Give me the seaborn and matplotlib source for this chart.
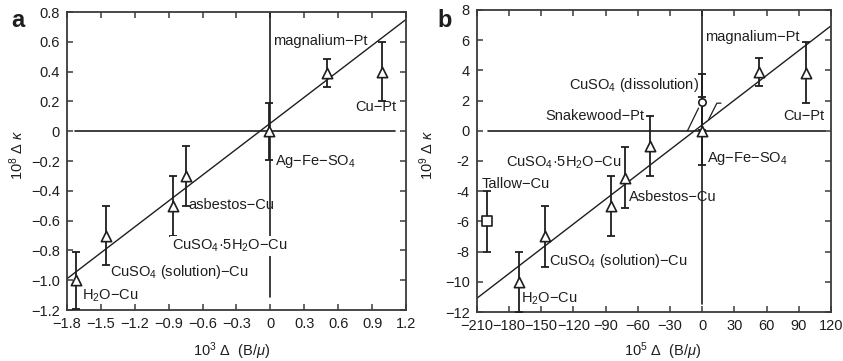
import matplotlib
matplotlib.use("Agg")
import matplotlib.pyplot as plt
import seaborn as sns
import numpy as np

sns.set_theme(style="ticks")
plt.rcParams['font.family'] = ['Liberation Sans', 'DejaVu Sans']
plt.rcParams['mathtext.fontset'] = 'custom'
plt.rcParams['mathtext.rm'] = 'Liberation Sans'
plt.rcParams['mathtext.it'] = 'Liberation Sans:italic'
plt.rcParams['axes.unicode_minus'] = True

# ---------------- data: panel a ----------------
A_X = [-1.72, -1.455, -0.86, -0.75, -0.015, 0.50, 0.99]
A_Y = [-1.0, -0.7, -0.5, -0.3, 0.0, 0.39, 0.40]
A_ERR = [0.19, 0.2, 0.2, 0.2, 0.19, 0.095, 0.2]
A_FIT_X = [-1.8, 1.2]
A_FIT_Y = [-0.99, 0.75]
A_HLINE_X = [-1.726, 1.10]
A_VLINE_Y = [0.8, -1.11]
A_XTICKS = [-1.8, -1.5, -1.2, -0.9, -0.6, -0.3, 0, 0.3, 0.6, 0.9, 1.2]
A_XTICKLABELS = ["−1.8", "−1.5", "−1.2", "−0.9", "−0.6", "−0.3", "0", "0.3", "0.6", "0.9", "1.2"]
A_YTICKS = [0.8, 0.6, 0.4, 0.2, 0, -0.2, -0.4, -0.6, -0.8, -1.0, -1.2]
A_YTICKLABELS = ["0.8", "0.6", "0.4", "0.2", "0", "−0.2", "−0.4", "−0.6", "−0.8", "−1.0", "−1.2"]
# annotations: (text, x, y(baseline), ha)
A_TEXTS = [
    ("magnalium−Pt", 0.02, 0.58, "left"),
    ("Cu−Pt", 0.75, 0.133, "left"),
    ("Ag−Fe−SO$_4$", 0.04, -0.228, "left"),
    ("asbestos−Cu", -0.726, -0.52, "left"),
    ("CuSO$_4$·5H$_2$O−Cu", -0.875, -0.795, "left"),
    ("CuSO$_4$ (solution)−Cu", -1.42, -0.975, "left"),
    ("H$_2$O−Cu", -1.668, -1.128, "left"),
]

# ---------------- data: panel b ----------------
B_X = [-171, -146, -84.5, -72, -48.8, 0, 53, 97]
B_Y = [-10, -7, -5, -3.1, -1, 0, 3.9, 3.85]
B_ERR = [2, 2, 2, 2, 2, 2.25, 0.95, 2]
B_SQ_X = [-200]
B_SQ_Y = [-6]
B_SQ_ERR = [2]
B_CI_X = [0]
B_CI_Y = [1.9]
B_CI_ERR = [1.85]
B_FIT_X = [-210, 120]
B_FIT_Y = [-11.1, 6.95]
B_HLINE_X = [-199.4, 114]
B_VLINE_Y = [8, -11.5]
B_LEADER1_X = [-3.4, -13.7]
B_LEADER1_Y = [1.5, 0.0]
B_LEADER2_X = [5.9, 13.7, 17.5]
B_LEADER2_Y = [0.73, 1.83, 1.83]
B_XTICKS = [-210, -180, -150, -120, -90, -60, -30, 0, 30, 60, 90, 120]
B_XTICKLABELS = ["−210", "−180", "−150", "−120", "−90", "−60", "−30", "0", "30", "60", "90", "120"]
B_YTICKS = [8, 6, 4, 2, 0, -2, -4, -6, -8, -10, -12]
B_YTICKLABELS = ["8", "6", "4", "2", "0", "-2", "-4", "-6", "-8", "−10", "−12"]
B_TEXTS = [
    ("magnalium−Pt", 2.5, 5.96, "left"),
    ("CuSO$_4$ (dissolution)", -2.8, 2.75, "right"),
    ("Snakewood−Pt", -54, 0.73, "right"),
    ("Cu−Pt", 75.5, 0.73, "left"),
    ("Ag−Fe−SO$_4$", 4.7, -2.06, "left"),
    ("CuSO$_4$·5H$_2$O−Cu", -75, -2.39, "right"),
    ("Tallow−Cu", -205.3, -3.82, "left"),
    ("Asbestos−Cu", -68, -4.66, "left"),
    ("CuSO$_4$ (solution)−Cu", -142.5, -8.87, "left"),
    ("H$_2$O−Cu", -169, -11.36, "left"),
]

INK = "#1e1e1e"
FRAME = "#3a3a3a"
FS = 10.5

W, H = 843, 361
fig = plt.figure(figsize=(W / 100, H / 100), dpi=100)
axA = fig.add_axes([67 / W, 1 - 310 / H, (406 - 67) / W, (310 - 12) / H])
axB = fig.add_axes([476.7 / W, 1 - 312 / H, (831 - 476.7) / W, (312 - 10) / H])


def style_axes(ax, xlim, ylim, xt, xtl, yt, ytl):
    ax.set_xlim(*xlim)
    ax.set_ylim(*ylim)
    ax.set_xticks(xt)
    ax.set_xticklabels(xtl)
    ax.set_yticks(yt)
    ax.set_yticklabels(ytl)
    ax.tick_params(direction="in", top=True, right=True, length=4.5, width=1.1,
                   color=FRAME, labelsize=FS, labelcolor=INK, pad=5)
    for s in ax.spines.values():
        s.set_visible(True)
        s.set_linewidth(1.3)
        s.set_color(FRAME)
    ax.set_xlabel("")
    ax.set_ylabel("")


def draw_tri(ax, xs, ys, errs, marker, ms, cap=3):
    ax.errorbar(xs, ys, yerr=errs, fmt="none", ecolor=INK, elinewidth=1.3,
                capsize=cap, capthick=1.3, zorder=3)
    sns.scatterplot(x=xs, y=ys, ax=ax, marker=marker, s=ms, color="white",
                    edgecolor=INK, linewidth=1.2, zorder=5, legend=False)


# ---------------- panel a ----------------
ax = axA
ax.plot(A_HLINE_X, [0, 0], color=INK, lw=1.2, zorder=1)
ax.plot([0, 0], A_VLINE_Y, color=INK, lw=1.2, zorder=1)
sns.lineplot(x=A_FIT_X, y=A_FIT_Y, ax=ax, color=INK, lw=1.0, zorder=2)
draw_tri(ax, A_X, A_Y, A_ERR, "^", 55)
for txt, x, y, ha in A_TEXTS:
    kw = {}
    if txt.startswith("CuSO$_4$·"):
        kw = dict(bbox=dict(facecolor="white", edgecolor="none", pad=1.0))
    ax.text(x, y, txt, ha=ha, va="baseline", fontsize=FS, color=INK, zorder=6, **kw)
style_axes(ax, (-1.8, 1.2), (-1.2, 0.8), A_XTICKS, A_XTICKLABELS, A_YTICKS, A_YTICKLABELS)

# ---------------- panel b ----------------
ax = axB
ax.plot(B_HLINE_X, [0, 0], color=INK, lw=1.2, zorder=1)
ax.plot([0, 0], B_VLINE_Y, color=INK, lw=1.2, zorder=1)
sns.lineplot(x=B_FIT_X, y=B_FIT_Y, ax=ax, color=INK, lw=1.0, zorder=2)
ax.plot(B_LEADER1_X, B_LEADER1_Y, color=INK, lw=0.9, zorder=2)
ax.plot(B_LEADER2_X, B_LEADER2_Y, color=INK, lw=0.9, zorder=2)
draw_tri(ax, B_X, B_Y, B_ERR, "^", 55)
draw_tri(ax, B_SQ_X, B_SQ_Y, B_SQ_ERR, "s", 50)
draw_tri(ax, B_CI_X, B_CI_Y, B_CI_ERR, "o", 28)
for txt, x, y, ha in B_TEXTS:
    ax.text(x, y, txt, ha=ha, va="baseline", fontsize=FS, color=INK, zorder=6)
style_axes(ax, (-210, 120), (-12, 8), B_XTICKS, B_XTICKLABELS, B_YTICKS, B_YTICKLABELS)

# ---------------- axis labels and panel letters ----------------
fig.text(232 / W, 1 - 356 / H, r"10$^3$ Δ  (B/$\mu$)", ha="center", va="baseline",
         fontsize=FS, color=INK)
fig.text(663 / W, 1 - 356 / H, r"10$^5$ Δ  (B/$\mu$)", ha="center", va="baseline",
         fontsize=FS, color=INK)
fig.text(17 / W, 1 - 155 / H, r"10$^8$ Δ $\kappa$", ha="center", va="center",
         rotation=90, fontsize=FS, color=INK)
fig.text(427 / W, 1 - 155 / H, r"10$^9$ Δ $\kappa$", ha="center", va="center",
         rotation=90, fontsize=FS, color=INK)
fig.text(11 / W, 1 - 27 / H, "a", ha="left", va="baseline", fontsize=17,
         fontweight="bold", color=INK)
fig.text(437 / W, 1 - 27 / H, "b", ha="left", va="baseline", fontsize=17,
         fontweight="bold", color=INK)

fig.savefig("out.png", dpi=100)
